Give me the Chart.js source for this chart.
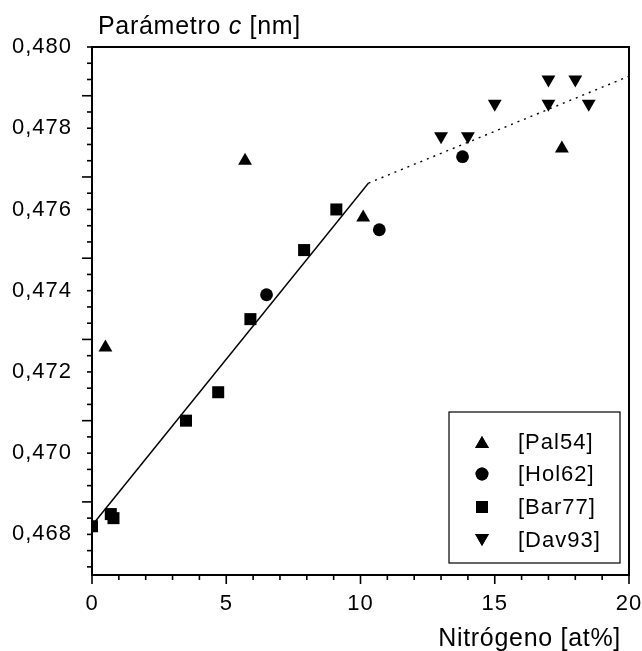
<!DOCTYPE html>
<html>
<head>
<meta charset="utf-8">
<script src="https://cdn.jsdelivr.net/npm/chart.js@4.4.0/dist/chart.umd.min.js"></script>
<style>
  html, body { margin: 0; padding: 0; background: #fff; }
  #wrap { width: 642px; height: 651px; }
</style>
</head>
<body>
<div id="wrap"><canvas id="c" width="642" height="651"></canvas></div>
<script>
// ---- data ----
const palX = [0.5, 5.7, 10.1, 17.5];
const palY = [0.4726, 0.4772, 0.4758, 0.4775];
const holX = [6.5, 10.7, 13.8];
const holY = [0.4739, 0.4755, 0.4773];
const barX = [0, 0.7, 0.8, 3.5, 4.7, 5.9, 7.9, 9.1];
const barY = [0.4682, 0.4685, 0.4684, 0.4708, 0.4715, 0.4733, 0.4750, 0.4760];
const davX = [13, 14, 15, 17, 17, 18, 18.5];
const davY = [0.4778, 0.4778, 0.4786, 0.4786, 0.4792, 0.4792, 0.4786];
const fitX = [0, 10.3];
const fitY = [0.46822, 0.47665];
const extX = [10.3, 20];
const extY = [0.47665, 0.47928];
const seriesLabels = ['[Pal54]', '[Hol62]', '[Bar77]', '[Dav93]'];
const xTicks = [0, 5, 10, 15, 20];
const yTicks = [0.468, 0.470, 0.472, 0.474, 0.476, 0.478, 0.480];
const xTitle = 'Nitrógeno [at%]';
const yTitleParts = ['Parámetro ', 'c', ' [nm]'];

const pts = (xs, ys) => xs.map((x, i) => ({x: x, y: ys[i]}));
const FONT = '"Liberation Sans", Arial, sans-serif';

function marker(label, xs, ys, style, r, rot) {
  return {
    type: 'scatter', label: label, data: pts(xs, ys),
    pointStyle: style, pointRadius: r, pointRotation: rot || 0,
    backgroundColor: '#000', borderColor: '#000', borderWidth: 0,
    showLine: false, isMarker: true
  };
}

const frame = {
  id: 'frame',
  beforeDraw(chart) {
    chart.ctx.letterSpacing = '1px';
  },
  afterDraw(chart) {
    const ctx = chart.ctx, a = chart.chartArea;
    const xs = chart.scales.x, ys = chart.scales.y;
    ctx.save();
    ctx.strokeStyle = '#000';
    ctx.lineWidth = 2;
    ctx.beginPath();
    ctx.moveTo(a.left, a.top); ctx.lineTo(a.right, a.top);
    ctx.lineTo(a.right, a.bottom); ctx.lineTo(a.left, a.bottom);
    ctx.closePath(); ctx.stroke();
    // x ticks
    ctx.lineWidth = 1.6;
    for (let v = 0; v <= 20; v++) {
      const px = xs.getPixelForValue(v);
      const len = (v % 5 === 0) ? 9 : 5;
      ctx.beginPath(); ctx.moveTo(px, a.bottom); ctx.lineTo(px, a.bottom + len); ctx.stroke();
    }
    for (let k = 0; k <= 32; k++) {
      const v = 0.4672 + k * 0.0004;
      const py = ys.getPixelForValue(v);
      const major = (k % 5 === 4);
      const len = major ? 10 : 5;
      ctx.beginPath(); ctx.moveTo(a.left, py); ctx.lineTo(a.left - len, py); ctx.stroke();
    }
    // titles
    ctx.fillStyle = '#000';
    ctx.letterSpacing = '0.7px';
    ctx.textBaseline = 'alphabetic';
    ctx.textAlign = 'right';
    ctx.font = '25px ' + FONT;
    ctx.fillText(xTitle, 621, 646);
    ctx.textAlign = 'left';
    let tx = 98;
    yTitleParts.forEach((s, i) => {
      ctx.font = (i === 1 ? 'italic ' : '') + '25px ' + FONT;
      ctx.fillText(s, tx, 34);
      tx += ctx.measureText(s).width;
    });
    // legend
    ctx.letterSpacing = '1px';
    const bx = 449, by = 412, bw = 171, bh = 151;
    ctx.lineWidth = 1.2;
    ctx.strokeRect(bx, by, bw, bh);
    const rows = [442, 474, 507, 540];
    ctx.font = '22px ' + FONT;
    ctx.textBaseline = 'middle';
    let li = 0;
    chart.data.datasets.forEach((ds) => {
      if (!ds.isMarker) return;
      const y = rows[li];
      Chart.helpers.drawPoint(ctx, {pointStyle: ds.pointStyle, radius: ds.pointRadius, rotation: ds.pointRotation, borderWidth: 0}, 482, y + (ds.pointStyle === 'triangle' ? 2 * (ds.pointRotation ? -1 : 1) : 0));
      ctx.fillStyle = '#000';
      ctx.fill();
      ctx.fillText(ds.label, 518, y + 1);
      li++;
    });
    ctx.restore();
  }
};

new Chart(document.getElementById('c'), {
  type: 'scatter',
  data: {
    datasets: [
      marker(seriesLabels[0], palX, palY, 'triangle', 8, 0),
      marker(seriesLabels[1], holX, holY, 'circle', 6.4, 0),
      marker(seriesLabels[2], barX, barY, 'rect', 8.5, 0),
      marker(seriesLabels[3], davX, davY, 'triangle', 8, 180),
      { type: 'line', label: 'fit', data: pts(fitX, fitY), borderColor: '#000', borderWidth: 1.4,
        pointRadius: 0, fill: false, tension: 0 },
      { type: 'line', label: 'ext', data: pts(extX, extY), borderColor: '#000', borderWidth: 1.4,
        borderDash: [2, 5], pointRadius: 0, fill: false, tension: 0 }
    ]
  },
  options: {
    responsive: false,
    animation: false,
    devicePixelRatio: 1,
    layout: { padding: { left: 0, top: 47, right: 13, bottom: 0 } },
    plugins: { legend: { display: false }, tooltip: { enabled: false }, title: { display: false } },
    scales: {
      x: {
        type: 'linear', min: 0, max: 20,
        afterBuildTicks: (s) => { s.ticks = xTicks.map(v => ({value: v})); },
        afterFit: (s) => { s.height = 76; s.paddingLeft = 0; s.paddingRight = 0; },
        grid: { display: false, drawTicks: false, tickLength: 0 },
        border: { display: false },
        ticks: { color: '#000', font: { family: FONT, size: 22 }, padding: 16, maxRotation: 0,
                 callback: (v) => String(v) }
      },
      y: {
        type: 'linear', min: 0.467, max: 0.480,
        afterBuildTicks: (s) => { s.ticks = yTicks.map(v => ({value: v})); },
        afterFit: (s) => { s.width = 92; s.paddingTop = 0; s.paddingBottom = 0; },
        grid: { display: false, drawTicks: false, tickLength: 0 },
        border: { display: false },
        ticks: { color: '#000', font: { family: FONT, size: 22 }, padding: 20,
                 callback: (v) => Number(v).toFixed(3).replace('.', ',') }
      }
    }
  },
  plugins: [frame]
});
</script>
</body>
</html>
